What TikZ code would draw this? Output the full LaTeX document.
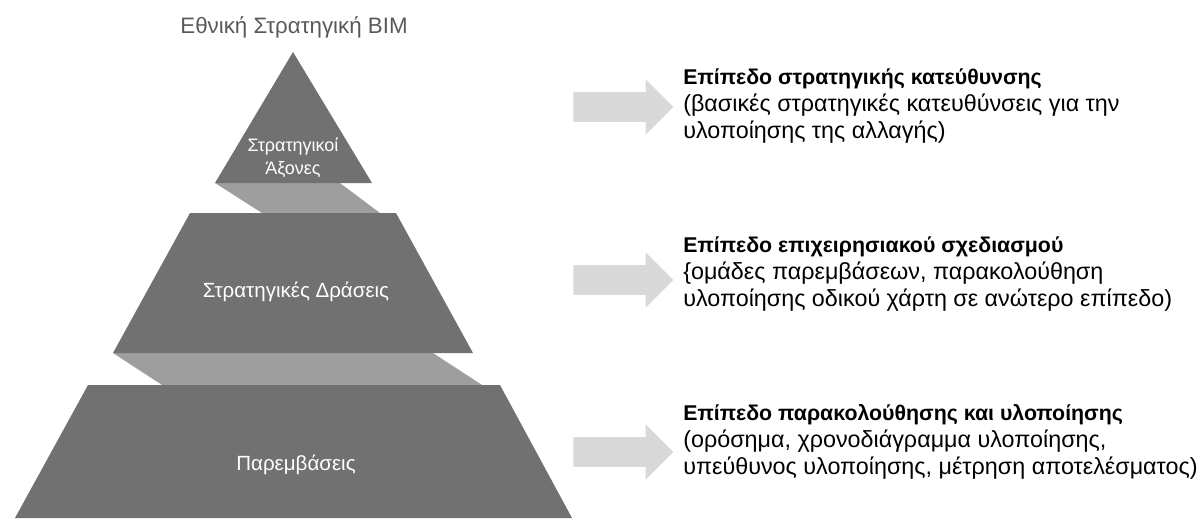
\documentclass[tikz,border=0pt]{standalone}
\usepackage{fontspec}
\setmainfont{Liberation Sans}
\usepackage{tikz}
\usetikzlibrary{positioning,shapes.arrows}
\definecolor{levelgray}{HTML}{717171}
\definecolor{foldgray}{HTML}{9E9E9E}
\definecolor{arrowgray}{HTML}{D9D9D9}
\definecolor{titlegray}{HTML}{595959}
\newcommand{\headline}[1]{{\fontsize{16}{20.25}\selectfont\bfseries #1}}

\begin{document}
\begin{tikzpicture}[x=0.75pt, y=-0.75pt, font=\fontsize{15.4}{18}\selectfont,
    level/.style={fill=levelgray}, fold/.style={fill=foldgray},
    lbl/.style={text=white, align=center, inner sep=0pt},
    pointer/.style={single arrow, fill=arrowgray, inner xsep=0pt, inner ysep=10.875pt,
      anchor=tail, minimum height=75pt, single arrow head extend=9.75pt},
    desc/.style={align=left, anchor=north west, inner sep=0pt,
      font=\fontsize{17.5}{20.25}\selectfont}]
    \useasboundingbox (0,0) rectangle (1198,518);%
    % folds between the levels
    \fill[fold] (215,183) -- (340,183) -- (380,213) -- (262,213) -- cycle;%
    \fill[fold] (113,353) -- (433,353) -- (482,385) -- (162,385) -- cycle;%
    % pyramid levels
    \fill[level] (293,52) -- (372,183) -- (215,183) -- cycle;%
    \fill[level] (190,213) -- (396,213) -- (473,353) -- (113,353) -- cycle;%
    \fill[level] (88,385) -- (500,385) -- (572,518) -- (15,518) -- cycle;%
    \node[text=titlegray, font=\fontsize{16.75}{20}\selectfont] (title) at (294,27) {Εθνική Στρατηγική BIM};%
    \node[lbl, font=\fontsize{13.5}{17}\selectfont] (axes) at (293,158) {Στρατηγικοί\\Άξονες};%
    \node[lbl] (actions) at (296,292) {Στρατηγικές Δράσεις};%
    \node[lbl] (interv) at (296,465) {Παρεμβάσεις};%
    % arrows and level descriptions
    \node[pointer] (arr1) at (573,107) {};%
    \node[pointer] (arr2) at (573,280) {};%
    \node[pointer] (arr3) at (573,452) {};%
    \node[desc] (strat) at (683,69) {\headline{Επίπεδο στρατηγικής κατεύθυνσης}\\(βασικές στρατηγικές κατευθύνσεις για την\\υλοποίησης της αλλαγής)};%
    \node[desc] (oper) at (683,237) {\headline{Επίπεδο επιχειρησιακού σχεδιασμού}\\\{ομάδες παρεμβάσεων, παρακολούθηση\\υλοποίησης οδικού χάρτη σε ανώτερο επίπεδο)};%
    \node[desc] (impl) at (683,404) {\headline{Επίπεδο παρακολούθησης και υλοποίησης}\\(ορόσημα, χρονοδιάγραμμα υλοποίησης,\\υπεύθυνος υλοποίησης, μέτρηση αποτελέσματος)};%
\end{tikzpicture}
\end{document}
